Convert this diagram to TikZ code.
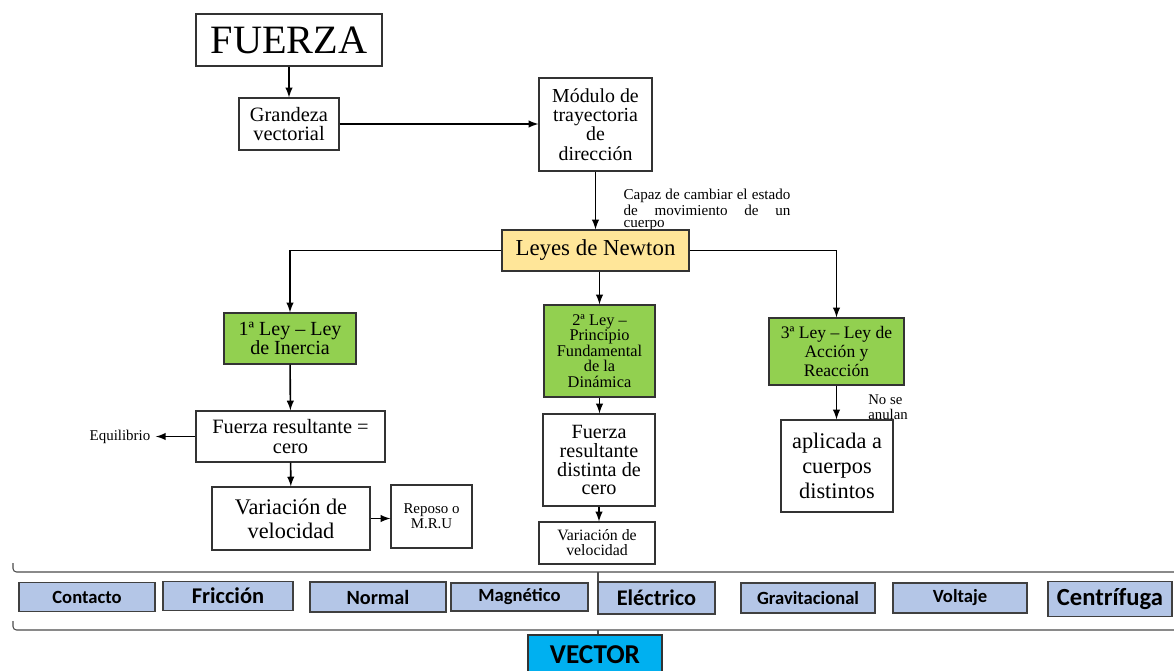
\documentclass[tikz,border=0pt]{standalone}
\usepackage{fontspec}
\setmainfont{Liberation Serif}
\newfontfamily\calibri{Carlito}
\usepackage{tikz}

\definecolor{newtonyellow}{HTML}{FFE699}
\definecolor{leygreen}{HTML}{92D050}
\definecolor{tipoblue}{HTML}{B4C6E7}
\definecolor{vectorcyan}{HTML}{00B0F0}
\newcommand{\fsz}[2]{\fontsize{#1}{#2}\selectfont}

\tikzset{
  caja/.style={draw=black!80, line width=0.7pt, align=center, inner sep=1pt},
  ley/.style={caja, fill=leygreen},
  tipo/.style={draw=black!75, line width=0.9pt, fill=tipoblue, inner sep=1pt, font=\calibri\bfseries\fsz{10.6}{12}},
  flecha/.style={->, >=latex, line width=0.9pt},
  llave/.style={draw=black!70, line width=0.6pt, rounded corners=2pt},
}

\begin{document}
\begin{tikzpicture}[x=0.02cm, y=-0.02cm]
\useasboundingbox (0,0) rectangle (1174,670);

% arriba
\node[caja, minimum width=3.72cm, minimum height=1.04cm, font=\fsz{22.9}{24}] (fuerza) at (289,40) {FUERZA};
\node[caja, minimum width=2cm, minimum height=1.04cm, font=\fsz{11.6}{11.3}] (grandeza) at (289,124) {Grandeza\\vectorial};
\node[caja, minimum width=2.26cm, minimum height=1.86cm, font=\fsz{11.3}{11}] (modulo) at (595.5,124.5) {Módulo de\\trayectoria\\de\\dirección};
\node[align=justify, text width=95pt, inner sep=0pt, font=\fsz{8.6}{7.2}] (capaz) at (707,210) {Capaz de cambiar el estado\linebreak de movimiento de un\linebreak cuerpo};
\node[caja, fill=newtonyellow, minimum width=3.74cm, minimum height=0.82cm, font=\fsz{13}{14}] (leyes) at (595.5,250.5) {Leyes de Newton};

\draw[flecha] (fuerza) -- (grandeza);
\draw[flecha] (grandeza.east) -- (grandeza.east -| modulo.west);
\draw[flecha] (modulo) -- (leyes);

% las tres leyes
\node[ley, minimum width=2.64cm, minimum height=1.02cm, font=\fsz{11.4}{10.8}] (ley1) at (290,338.5) {1ª Ley – Ley\\de Inercia};
\node[ley, minimum width=2.22cm, minimum height=1.84cm, font=\fsz{9.3}{8.9}] (ley2) at (599.5,351) {2ª Ley –\\Principio\\Fundamental\\de la\\Dinámica};
\node[ley, minimum width=2.7cm, minimum height=1.34cm, font=\fsz{10}{10.8}] (ley3) at (836.5,351.5) {3ª Ley – Ley de\\Acción y\\Reacción};

\draw[flecha] (leyes.west) -| (ley1.north);
\draw[flecha] (leyes.south -| ley2.north) -- (ley2.north);
\draw[flecha] (leyes.east) -| (ley3.north);

% primera ley
\node[caja, minimum width=3.78cm, minimum height=1.02cm, font=\fsz{11.6}{11.3}] (resul) at (290.5,436.5) {Fuerza resultante =\\cero};
\node[inner sep=3pt, font=\fsz{8.5}{9}] (equil) at (120,437) {Equilibrio};
\node[caja, minimum width=3.16cm, minimum height=1.26cm, font=\fsz{12.7}{13.6}] (varvel) at (291,518.5) {Variación de\\velocidad};
\node[caja, minimum width=1.62cm, minimum height=1.26cm, font=\fsz{8.5}{8.5}] (reposo) at (431.5,516.5) {Reposo o\\M.R.U};

\draw[flecha] (ley1) -- (resul);
\draw[flecha] (resul.west) -- (resul.west -| equil.east);
\draw[flecha] (resul) -- (varvel);
\draw[flecha] (varvel.east) -- (varvel.east -| reposo.west);

% segunda ley
\node[caja, minimum width=2.24cm, minimum height=1.84cm, font=\fsz{11.5}{10.8}] (distinta) at (599,460) {Fuerza\\resultante\\distinta de\\cero};
\node[caja, minimum width=2.32cm, minimum height=0.84cm, font=\fsz{9}{8.5}] (varvel2) at (597,543) {Variación de\\velocidad};

\draw[flecha] (ley2) -- (ley2 |- distinta.north);
\draw[flecha] (distinta.south) -- (distinta.south |- varvel2.north);

% tercera ley
\node[caja, minimum width=2.24cm, minimum height=1.84cm, font=\fsz{12.7}{14.2}] (aplicada) at (837,466) {aplicada a\\cuerpos\\distintos};
\node[align=left, inner sep=0pt, font=\fsz{8.4}{8.5}] (nose) at (888,407) {No se\\anulan};

\draw[flecha] (ley3) -- (ley3 |- aplicada.north);

% tipos de fuerza
\node[tipo, minimum width=2.72cm, minimum height=0.58cm] (contacto) at (87,597) {Contacto};
\node[tipo, minimum width=2.6cm, minimum height=0.58cm, font=\calibri\bfseries\fsz{12.8}{14}] (friccion) at (228,596) {Fricción};
\node[tipo, minimum width=2.72cm, minimum height=0.6cm, font=\calibri\bfseries\fsz{11.5}{12}] (normal) at (378,597) {Normal};
\node[tipo, minimum width=2.74cm, minimum height=0.56cm] (magnetico) at (519.5,597) {Magnético};
\node[tipo, minimum width=2.34cm, minimum height=0.64cm, font=\calibri\bfseries\fsz{12.7}{14}] (electrico) at (656.5,598) {Eléctrico};
\node[tipo, minimum width=2.68cm, minimum height=0.6cm] (gravitacional) at (808,598) {Gravitacional};
\node[tipo, minimum width=2.68cm, minimum height=0.6cm] (voltaje) at (960,598) {Voltaje};
\node[tipo, minimum width=2.48cm, minimum height=0.7cm, font=\calibri\bfseries\fsz{14}{15}] (centrifuga) at (1110,599) {Centrífuga};

\draw[llave] (13,563) -- (13,572) -- (1190,572);
\coordinate (puntaarriba) at (598,572);
\draw[llave] (puntaarriba) -- (puntaarriba |- electrico.north);

\node[draw=black!80, line width=0.9pt, fill=vectorcyan, minimum width=2.68cm, minimum height=0.8cm, font=\calibri\bfseries\fsz{15.5}{16}] (vector) at (595,655) {VECTOR};

\draw[llave] (13,621) -- (13,630) -- (1190,630);
\coordinate (puntaabajo) at (598,630);
\draw[llave] (puntaabajo) -- (puntaabajo |- vector.north);
\end{tikzpicture}
\end{document}
